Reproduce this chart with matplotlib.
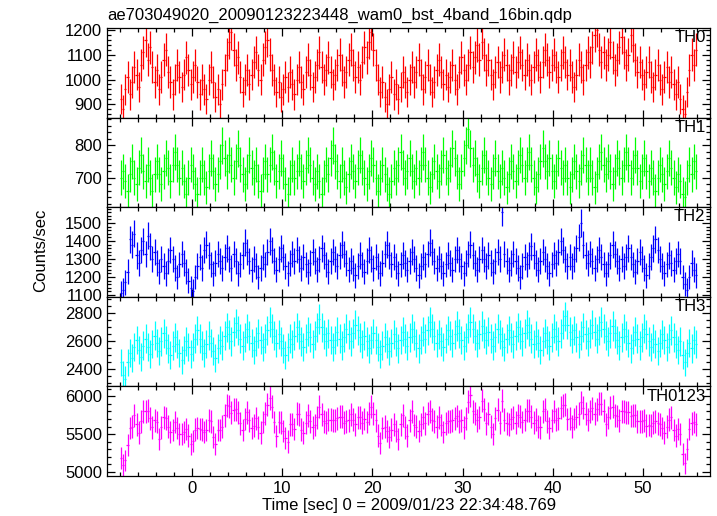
import numpy as np
import matplotlib
matplotlib.use("Agg")
import matplotlib.pyplot as plt
from matplotlib.ticker import MultipleLocator

plt.rcParams['font.family'] = ['Liberation Sans', 'DejaVu Sans']
plt.rcParams['font.size'] = 12

dt = 0.25
t0 = -8.0

th0 = [
    920, 880, 960, 1010, 940, 990, 1050, 1020, 970, 1060, 1110, 1160, 1080, 1130, 1050, 990,
    1040, 960, 1010, 1080, 1120, 1030, 990, 940, 1000, 1060, 1010, 970, 1020, 1090, 1040, 980,
    1010, 1060, 990, 940, 1000, 960, 920, 1000, 1050, 990, 930, 960, 900, 980, 1040, 1100,
    1150, 1190, 1120, 1060, 1090, 1010, 950, 1000, 1040, 980, 1020, 1070, 1110, 1040, 1000, 1080,
    1130, 1160, 1100, 1040, 1000, 950, 990, 930, 960, 1010, 970, 1030, 980, 940, 1000, 1050,
    990, 960, 1030, 1080, 1020, 970, 1010, 1060, 1110, 1050, 1000, 1040, 1090, 1030, 980, 1020,
    1060, 1100, 1040, 990, 1030, 1080, 1120, 1060, 1010, 1050, 1000, 1070, 1130, 1090, 1150, 1190,
    1120, 1060, 1000, 950, 990, 930, 900, 960, 1010, 940, 980, 920, 970, 1030, 990, 950,
    1000, 1050, 990, 1030, 1080, 1020, 960, 1010, 1060, 1000, 950, 990, 1040, 1080, 1030, 980,
    1020, 970, 1010, 1060, 1000, 960, 1030, 1090, 1040, 1000, 1060, 1110, 1050, 1090, 1140, 1080,
    1150, 1100, 1040, 1080, 1020, 980, 1030, 1070, 1010, 1050, 1100, 1060, 1000, 1040, 1090, 1030,
    1070, 1110, 1060, 1020, 1080, 1040, 1000, 1050, 1100, 1060, 1010, 1070, 1120, 1080, 1030, 1060,
    1100, 1050, 1010, 1060, 1110, 1070, 1020, 1060, 1010, 970, 1020, 1080, 1050, 1000, 1060, 1110,
    1070, 1130, 1180, 1200, 1120, 1070, 1110, 1060, 1100, 1150, 1090, 1040, 1080, 1130, 1170, 1110,
    1060, 1100, 1180, 1140, 1080, 1030, 1070, 1020, 980, 1030, 1070, 1010, 970, 1020, 1060, 1000,
    960, 1010, 1050, 990, 1030, 980, 940, 990, 920, 880, 860, 950, 1040, 1100, 1060, 1120,
]

th1 = [
    700, 720, 690, 660, 710, 750, 700, 680, 730, 770, 720, 690, 740, 700, 660, 710,
    750, 710, 680, 720, 760, 730, 690, 740, 780, 740, 700, 730, 690, 650, 700, 740,
    720, 680, 650, 700, 740, 700, 670, 720, 760, 720, 680, 710, 750, 800, 760, 720,
    770, 740, 700, 750, 790, 740, 710, 680, 720, 770, 730, 700, 740, 690, 660, 710,
    750, 710, 740, 780, 730, 690, 720, 760, 720, 680, 650, 700, 740, 700, 720, 760,
    720, 690, 730, 770, 740, 700, 680, 720, 690, 650, 700, 740, 710, 760, 800, 750,
    720, 690, 740, 700, 670, 710, 750, 720, 690, 730, 770, 730, 700, 680, 720, 760,
    740, 700, 660, 700, 740, 710, 680, 650, 690, 730, 700, 740, 780, 730, 700, 720,
    760, 720, 690, 730, 700, 740, 780, 740, 700, 670, 710, 750, 720, 690, 730, 770,
    730, 700, 740, 790, 760, 720, 680, 720, 760, 800, 850, 790, 740, 760, 710, 690,
    730, 770, 730, 700, 680, 720, 760, 720, 690, 730, 700, 670, 710, 750, 720, 690,
    730, 770, 740, 700, 740, 780, 740, 700, 670, 710, 750, 790, 750, 720, 760, 720,
    690, 720, 760, 730, 700, 740, 700, 670, 710, 750, 720, 690, 730, 770, 740, 700,
    740, 700, 670, 710, 750, 780, 740, 710, 750, 720, 680, 720, 760, 730, 700, 740,
    780, 740, 700, 730, 770, 730, 690, 720, 760, 720, 690, 730, 700, 660, 700, 740,
    710, 680, 720, 760, 730, 700, 670, 710, 690, 650, 640, 700, 740, 710, 750, 720,
]

th2 = [
    1110, 1130, 1170, 1230, 1410, 1380, 1440, 1320, 1280, 1350, 1400, 1330, 1430, 1370, 1300, 1340,
    1280, 1230, 1300, 1260, 1220, 1290, 1350, 1300, 1250, 1200, 1270, 1330, 1280, 1230, 1180, 1140,
    1120, 1200, 1260, 1310, 1250, 1350, 1380, 1320, 1270, 1220, 1280, 1330, 1290, 1250, 1310, 1360,
    1300, 1250, 1330, 1290, 1220, 1270, 1320, 1390, 1340, 1290, 1240, 1300, 1260, 1200, 1250, 1310,
    1270, 1340, 1400, 1350, 1290, 1240, 1300, 1360, 1310, 1260, 1220, 1280, 1330, 1290, 1350, 1300,
    1250, 1310, 1270, 1230, 1280, 1340, 1290, 1240, 1300, 1360, 1320, 1270, 1230, 1290, 1340, 1300,
    1260, 1320, 1380, 1330, 1280, 1240, 1290, 1250, 1210, 1260, 1320, 1270, 1230, 1290, 1350, 1300,
    1250, 1310, 1260, 1220, 1280, 1330, 1380, 1320, 1270, 1310, 1260, 1220, 1270, 1320, 1280, 1240,
    1290, 1340, 1300, 1250, 1210, 1260, 1310, 1270, 1330, 1390, 1340, 1290, 1250, 1300, 1260, 1220,
    1270, 1320, 1280, 1240, 1300, 1350, 1300, 1260, 1220, 1280, 1330, 1380, 1320, 1280, 1240, 1300,
    1350, 1300, 1260, 1320, 1280, 1230, 1290, 1340, 1300, 1560, 1330, 1290, 1240, 1280, 1330, 1290,
    1250, 1200, 1260, 1310, 1270, 1320, 1370, 1320, 1280, 1240, 1290, 1340, 1300, 1260, 1220, 1270,
    1320, 1280, 1340, 1400, 1350, 1300, 1260, 1310, 1260, 1300, 1360, 1420, 1500, 1380, 1320, 1280,
    1330, 1290, 1250, 1300, 1350, 1310, 1270, 1220, 1270, 1320, 1380, 1330, 1290, 1250, 1300, 1260,
    1310, 1360, 1310, 1270, 1230, 1290, 1340, 1300, 1250, 1210, 1260, 1310, 1360, 1410, 1350, 1300,
    1260, 1220, 1270, 1320, 1280, 1240, 1290, 1330, 1290, 1200, 1160, 1130, 1200, 1280, 1240, 1210,
]

th3 = [
    2450, 2360, 2330, 2450, 2520, 2480, 2560, 2610, 2540, 2490, 2570, 2620, 2560, 2510, 2580, 2640,
    2590, 2530, 2600, 2660, 2610, 2550, 2500, 2570, 2630, 2580, 2520, 2470, 2540, 2600, 2560, 2510,
    2560, 2620, 2680, 2620, 2570, 2520, 2580, 2640, 2590, 2530, 2480, 2550, 2610, 2570, 2640, 2700,
    2650, 2600, 2670, 2730, 2680, 2620, 2570, 2630, 2690, 2640, 2590, 2540, 2600, 2660, 2610, 2560,
    2620, 2680, 2740, 2690, 2640, 2590, 2650, 2600, 2550, 2500, 2560, 2620, 2580, 2640, 2700, 2650,
    2600, 2560, 2620, 2670, 2630, 2580, 2640, 2700, 2760, 2700, 2650, 2600, 2660, 2610, 2560, 2610,
    2670, 2620, 2570, 2630, 2690, 2650, 2600, 2660, 2720, 2680, 2630, 2580, 2640, 2600, 2550, 2610,
    2660, 2610, 2560, 2510, 2570, 2630, 2580, 2530, 2590, 2650, 2600, 2550, 2610, 2670, 2620, 2570,
    2630, 2690, 2640, 2590, 2550, 2610, 2670, 2620, 2680, 2740, 2690, 2640, 2590, 2650, 2600, 2560,
    2620, 2680, 2640, 2590, 2650, 2710, 2660, 2610, 2570, 2630, 2690, 2740, 2690, 2640, 2590, 2650,
    2710, 2660, 2610, 2670, 2620, 2570, 2630, 2690, 2650, 2600, 2560, 2620, 2680, 2630, 2580, 2640,
    2700, 2650, 2600, 2660, 2720, 2670, 2620, 2580, 2640, 2590, 2540, 2600, 2660, 2610, 2570, 2630,
    2690, 2640, 2600, 2660, 2720, 2780, 2720, 2670, 2620, 2680, 2630, 2580, 2640, 2700, 2650, 2600,
    2660, 2720, 2670, 2620, 2680, 2740, 2690, 2640, 2600, 2660, 2710, 2660, 2610, 2570, 2630, 2690,
    2640, 2590, 2550, 2610, 2670, 2620, 2570, 2630, 2690, 2650, 2600, 2560, 2620, 2580, 2530, 2590,
    2650, 2610, 2560, 2620, 2680, 2630, 2580, 2540, 2600, 2500, 2450, 2520, 2590, 2550, 2610, 2580,
]

labels = ['TH0', 'TH1', 'TH2', 'TH3', 'TH0123']
colors = ['#ff0000', '#00ff00', '#0000ff', '#00ffff', '#ff00ff']
ylims = [(846, 1208), (609, 885), (1090, 1588), (2279, 2919), (4943, 6132)]
majors = [100, 100, 100, 200, 500]
minors = [20, 20, 20, 50, 100]

rates = [np.array(a, dtype=float) for a in (th0, th1, th2, th3)]
rates.append(rates[0] + rates[1] + rates[2] + rates[3])
t = t0 + dt / 2 + dt * np.arange(len(th0))

fig, axes = plt.subplots(5, 1, sharex=True, figsize=(7.17, 5.16), dpi=100)
fig.subplots_adjust(left=0.1492, right=0.990, top=0.9457, bottom=0.0775, hspace=0)

for ax, r, lab, c, yl, mj, mn in zip(axes, rates, labels, colors, ylims, majors, minors):
    err = np.sqrt(r * dt) / dt
    ax.errorbar(t, r, xerr=dt / 2, yerr=err, fmt='none', ecolor=c,
                elinewidth=0.9, capsize=0)
    ax.set_ylim(*yl)
    ax.set_xlim(-9.4, 57.4)
    ax.yaxis.set_major_locator(MultipleLocator(mj))
    ax.yaxis.set_minor_locator(MultipleLocator(mn))
    ax.xaxis.set_major_locator(MultipleLocator(10))
    ax.xaxis.set_minor_locator(MultipleLocator(2))
    ax.tick_params(which='both', direction='in', top=True, right=True, width=0.9)
    ax.tick_params(which='major', length=6, labelsize=12)
    ax.tick_params(which='minor', length=3)
    for s in ax.spines.values():
        s.set_linewidth(0.9)
    ax.text(0.993, 0.975, lab, transform=ax.transAxes, ha='right', va='top', fontsize=12)

fig.text(0.1492, 0.971, 'ae703049020_20090123223448_wam0_bst_4band_16bin.qdp',
         ha='left', va='center', fontsize=12)
fig.text(0.057, 0.515, 'Counts/sec', rotation=90, ha='center', va='center', fontsize=12)
fig.text(0.57, 0.021, 'Time [sec] 0 = 2009/01/23 22:34:48.769',
         ha='center', va='center', fontsize=12)

fig.savefig('out.png', dpi=100)
